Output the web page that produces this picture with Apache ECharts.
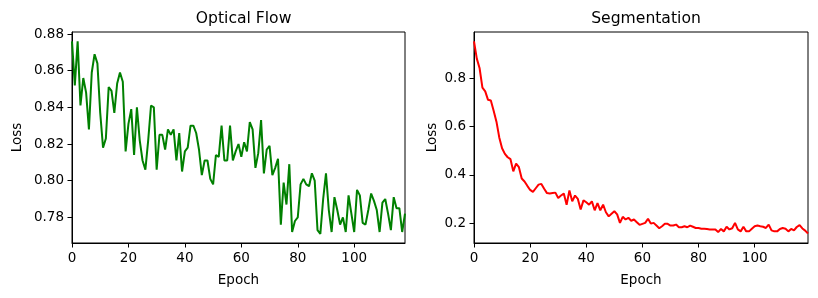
<!DOCTYPE html>
<html>
<head>
<meta charset="utf-8">
<script src="https://cdn.jsdelivr.net/npm/echarts@6/dist/echarts.min.js"></script>
<style>
html,body{margin:0;padding:0;background:#fff;}
#chart{width:818px;height:298px;}
</style>
</head>
<body>
<div id="chart"></div>
<script>
// ---- data ----
const flowLoss = [
0.876,0.852,0.876,0.841,0.856,0.848,0.828,0.859,0.869,0.864,
0.837,0.818,0.823,0.851,0.849,0.837,0.853,0.859,0.854,0.816,
0.831,0.839,0.814,0.840,0.822,0.811,0.806,0.822,0.841,0.840,
0.806,0.825,0.825,0.817,0.828,0.825,0.828,0.811,0.826,0.805,
0.816,0.818,0.830,0.830,0.826,0.817,0.803,0.811,0.811,0.801,
0.798,0.814,0.813,0.830,0.811,0.811,0.830,0.811,0.816,0.820,
0.813,0.821,0.816,0.832,0.828,0.807,0.815,0.833,0.804,0.817,
0.819,0.803,0.807,0.812,0.776,0.799,0.787,0.809,0.772,0.778,
0.780,0.798,0.801,0.798,0.797,0.804,0.800,0.773,0.771,0.790,
0.804,0.784,0.772,0.791,0.784,0.776,0.780,0.772,0.792,0.782,
0.772,0.795,0.792,0.777,0.776,0.784,0.793,0.789,0.784,0.772,
0.788,0.790,0.782,0.773,0.791,0.785,0.785,0.772,0.782
];
const segLoss = [
0.951,0.880,0.840,0.760,0.745,0.710,0.707,0.665,0.620,0.555,
0.510,0.487,0.473,0.465,0.415,0.447,0.432,0.385,0.373,0.355,
0.338,0.330,0.345,0.360,0.363,0.343,0.325,0.323,0.325,0.327,
0.305,0.315,0.323,0.277,0.336,0.291,0.315,0.301,0.257,0.295,
0.287,0.277,0.291,0.254,0.284,0.254,0.277,0.246,0.229,0.240,
0.250,0.237,0.202,0.227,0.216,0.223,0.211,0.216,0.205,0.194,
0.198,0.202,0.219,0.199,0.202,0.191,0.180,0.188,0.198,0.198,
0.191,0.191,0.195,0.184,0.184,0.188,0.184,0.191,0.186,0.181,
0.181,0.178,0.178,0.177,0.175,0.175,0.175,0.164,0.177,0.167,
0.186,0.175,0.180,0.202,0.175,0.167,0.186,0.167,0.167,0.178,
0.188,0.191,0.188,0.186,0.181,0.195,0.171,0.167,0.167,0.177,
0.181,0.178,0.167,0.177,0.171,0.185,0.193,0.179,0.170,0.158
];
const epochTicks = [0, 20, 40, 60, 80, 100];
const flowTicks = [0.78, 0.80, 0.82, 0.84, 0.86, 0.88];
const segTicks = [0.2, 0.4, 0.6, 0.8];
const titles = ['Optical Flow', 'Segmentation'];
const xName = 'Epoch';
const yName = 'Loss';

// ---- chart ----
const FONT = 'DejaVu Sans';
const FS = 13.5;
const chart = echarts.init(document.getElementById('chart'), null, {renderer: 'canvas'});
const toPairs = arr => arr.map((v, i) => [i, v]);

function xAxisFor(gi, max) {
  return {
    type: 'value', gridIndex: gi, min: 0, max: max,
    name: xName, nameLocation: 'middle', nameGap: 30,
    nameTextStyle: {fontFamily: FONT, fontSize: FS, color: '#000'},
    axisLine: {show: true, onZero: false, lineStyle: {color: '#000', width: 1}},
    axisTick: {show: true, inside: false, length: 4.5, customValues: epochTicks, lineStyle: {color: '#000', width: 1}},
    axisLabel: {show: true, margin: 8, customValues: epochTicks, fontFamily: FONT, fontSize: FS, color: '#000'},
    splitLine: {show: false}
  };
}
function yAxisFor(gi, min, max, ticks, digits, gap) {
  return {
    type: 'value', gridIndex: gi, min: min, max: max,
    name: yName, nameLocation: 'middle', nameGap: gap, nameRotate: 90,
    nameTextStyle: {fontFamily: FONT, fontSize: FS, color: '#000'},
    axisLine: {show: true, onZero: false, lineStyle: {color: '#000', width: 1}},
    axisTick: {show: true, inside: false, length: 4.5, customValues: ticks, lineStyle: {color: '#000', width: 1}},
    axisLabel: {show: true, margin: 8, customValues: ticks, fontFamily: FONT, fontSize: FS, color: '#000',
      formatter: v => Number(v).toFixed(digits)},
    splitLine: {show: false}
  };
}

chart.setOption({
  animation: false,
  backgroundColor: '#fff',
  title: [
    {text: titles[0], left: 238.6, top: 6, textAlign: 'center',
     textStyle: {fontFamily: FONT, fontSize: 15.6, fontWeight: 'normal', color: '#000'}},
    {text: titles[1], left: 641, top: 6, textAlign: 'center',
     textStyle: {fontFamily: FONT, fontSize: 15.6, fontWeight: 'normal', color: '#000'}}
  ],
  grid: [
    {left: 72, right: 413, top: 32, bottom: 55, show: true, borderColor: '#000', borderWidth: 1, backgroundColor: 'transparent'},
    {left: 474, right: 10, top: 32, bottom: 55, show: true, borderColor: '#000', borderWidth: 1, backgroundColor: 'transparent'}
  ],
  xAxis: [xAxisFor(0, flowLoss.length - 1), xAxisFor(1, segLoss.length - 1)],
  yAxis: [
    yAxisFor(0, 0.766, 0.8811, flowTicks, 2, 48),
    yAxisFor(1, 0.119, 0.99, segTicks, 1, 35)
  ],
  series: [
    {type: 'line', xAxisIndex: 0, yAxisIndex: 0, data: toPairs(flowLoss), showSymbol: false,
     lineStyle: {color: '#008000', width: 2}, itemStyle: {color: '#008000'}},
    {type: 'line', xAxisIndex: 1, yAxisIndex: 1, data: toPairs(segLoss), showSymbol: false,
     lineStyle: {color: '#ff0000', width: 2}, itemStyle: {color: '#ff0000'}}
  ]
});
</script>
</body>
</html>
